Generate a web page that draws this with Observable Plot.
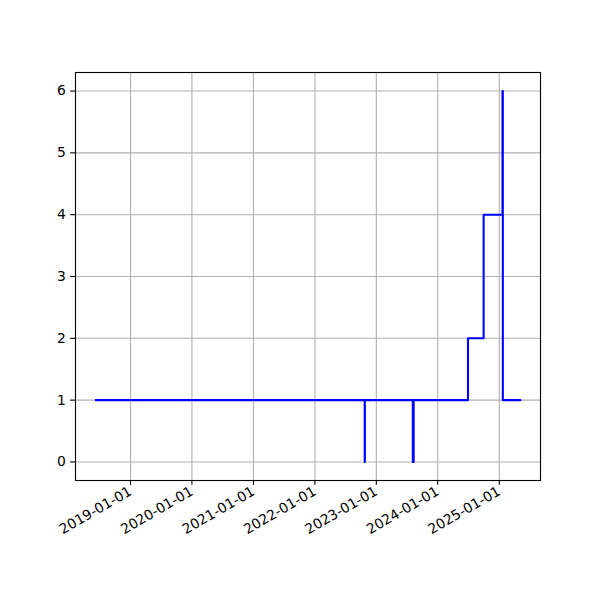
<!DOCTYPE html>
<html>
<head>
<meta charset="utf-8">
<script src="https://cdn.jsdelivr.net/npm/d3@7"></script>
<script src="https://cdn.jsdelivr.net/npm/@observablehq/plot@0.6"></script>
<style>
  html, body { margin: 0; padding: 0; background: white; }
  #chart svg { display: block; }
</style>
</head>
<body>
<div id="chart"></div>
<script>
const dates = ["2018-06-09","2022-10-24","2022-10-25","2023-08-06","2023-08-07","2023-08-10","2023-08-11","2024-06-29","2024-09-30","2025-01-20","2025-01-22","2025-05-06"];
const values = [1,0,1,0,1,0,1,2,4,6,1,1];
const yTicks = [0,1,2,3,4,5,6];
const xTickLabels = ["2019-01-01","2020-01-01","2021-01-01","2022-01-01","2023-01-01","2024-01-01","2025-01-01"];

const data = dates.map((d, i) => ({date: new Date(d), value: values[i]}));
const xTicks = xTickLabels.map(d => new Date(d));

const chart = Plot.plot({
  width: 600,
  height: 600,
  marginLeft: 75,
  marginRight: 60,
  marginTop: 72,
  marginBottom: 120,
  style: {fontFamily: "DejaVu Sans", fontSize: "13.9px", background: "white", color: "black"},
  x: {type: "utc", domain: [new Date("2018-02-08"), new Date("2025-09-03")]},
  y: {domain: [-0.3, 6.3]},
  marks: [
    Plot.gridX(xTicks, {stroke: "#b0b0b0", strokeOpacity: 1, strokeWidth: 1.1}),
    Plot.gridY(yTicks, {stroke: "#b0b0b0", strokeOpacity: 1, strokeWidth: 1.1}),
    Plot.line(data, {x: "date", y: "value", curve: "step-after", stroke: "blue", strokeWidth: 2.08}),
    Plot.frame({stroke: "black", strokeWidth: 1.1}),
    Plot.axisX(xTicks, {tickFormat: d3.utcFormat("%Y-%m-%d"), tickRotate: -30, tickSize: 4.86, tickPadding: 4.86, label: null, strokeWidth: 1.1}),
    Plot.axisY(yTicks, {tickFormat: d => String(d), tickSize: 4.86, tickPadding: 4.86, label: null, strokeWidth: 1.1})
  ]
});
document.getElementById("chart").appendChild(chart);
</script>
</body>
</html>
